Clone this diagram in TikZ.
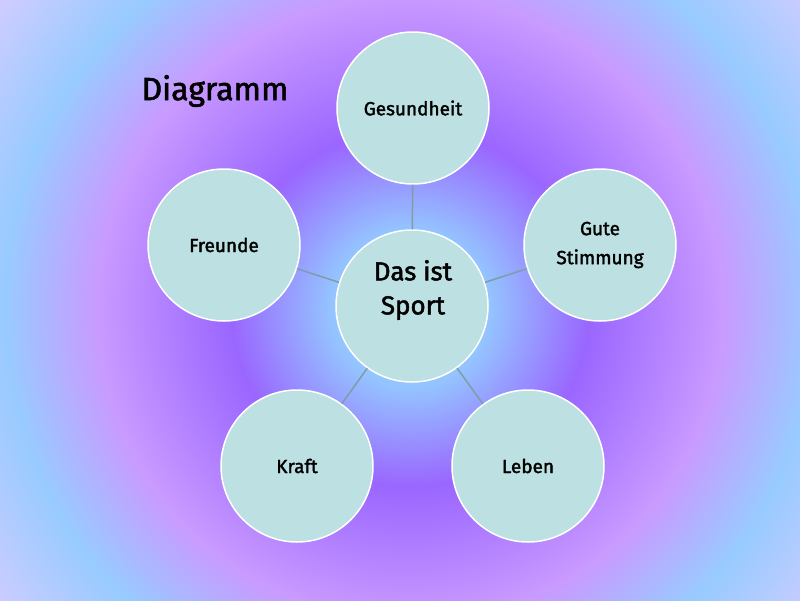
\documentclass[tikz,border=0pt]{standalone}
\usepackage{fontspec}
\setmainfont{Fira Sans}[FakeBold=1.8]
\definecolor{bgA}{HTML}{A6D2FF}
\definecolor{bgB}{HTML}{94C4FF}
\definecolor{bgC}{HTML}{9A66FF}
\definecolor{bgD}{HTML}{C99AFF}
\definecolor{bgE}{HTML}{98CBFF}
\definecolor{bgF}{HTML}{CCCCFF}
\definecolor{bubblefill}{HTML}{BDE0E2}
\definecolor{linkcol}{HTML}{7D9EA6}
\pgfdeclareradialshading{bgshade}{\pgfpoint{0bp}{0bp}}{%
  color(0bp)=(bgA); color(3.8bp)=(bgB); color(8.6bp)=(bgC);
  color(15bp)=(bgD); color(19.5bp)=(bgE); color(24.3bp)=(bgF); color(50bp)=(bgF)}
\tikzset{
  bubble/.style={circle, fill=bubblefill, draw=white, line width=1.5pt,
    minimum size=152pt, inner sep=0pt, font=\fontsize{19}{29}\selectfont,
    align=center, text=black},
  link/.style={draw=linkcol, line width=1.5pt},
  centertext/.style={font=\fontsize{26}{34}\selectfont, align=center, text=black},
}
\begin{document}
\begin{tikzpicture}[x=1pt,y=-1pt]
\useasboundingbox (0,0) rectangle (800,600);
\begin{scope}
\clip (0,0) rectangle (800,600);
\shade[shading=bgshade] (-110,-212) rectangle (930,828);
\end{scope}
\node[font=\fontsize{32}{36}\selectfont, text=black] (title) at (215,91) {Diagramm};
\node[bubble] (c) at (412,306) {};
\node[bubble] (g) at (413,108) {Gesundheit};
\node[bubble] (s) at (600,245) {Gute\\Stimmung};
\node[bubble] (l) at (528,466) {Leben};
\node[bubble] (k) at (297,466) {Kraft};
\node[bubble] (f) at (224,245) {Freunde};
\node[centertext] (ct) at (413,290) {Das ist\\Sport};
\draw[link] (c) -- (g);
\draw[link] (c) -- (s);
\draw[link] (c) -- (l);
\draw[link] (c) -- (k);
\draw[link] (c) -- (f);
\end{tikzpicture}
\end{document}
